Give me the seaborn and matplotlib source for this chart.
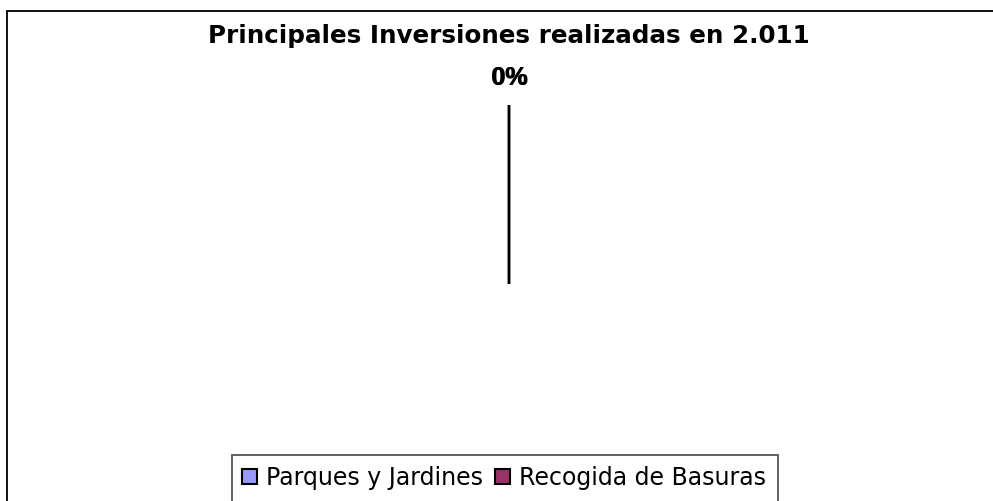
import matplotlib
matplotlib.use("Agg")
import matplotlib.pyplot as plt
from matplotlib.patches import Patch, Rectangle
import seaborn as sns

categories = ["Parques y Jardines", "Recogida de Basuras"]
values = [0.0, 0.0]
colors = ["#9999FF", "#993366"]
title = "Principales Inversiones realizadas en 2.011"

sns.set_theme(style="white")
plt.rcParams["font.family"] = ["Liberation Sans", "DejaVu Sans"]
plt.rcParams["text.color"] = "black"

W, H = 993, 501
fig = plt.figure(figsize=(W / 100, H / 100), dpi=100)
fig.patch.set_facecolor("white")

# outer chart frame (cut at right and bottom as in the reference)
fig.add_artist(Rectangle((7 / W, -0.1), 1.2, (H - 11) / H + 0.1,
                         transform=fig.transFigure, fill=False,
                         edgecolor="#111111", linewidth=1.4, clip_on=False))

R = 179
cx, cy = 509, H - 284
ax = fig.add_axes([(cx - R) / W, (cy - R) / H, 2 * R / W, 2 * R / H])
palette = sns.color_palette(colors)
wedges, texts, autotexts = ax.pie(
    values, colors=palette, normalize=False, startangle=90,
    autopct="%1.0f%%", pctdistance=1.15,
    wedgeprops=dict(edgecolor="black", linewidth=1.8),
    textprops=dict(fontsize=18, fontweight="bold", color="black"))
for i, t in enumerate(autotexts):
    t.set_x(t.get_position()[0] + 0.006 * i)
ax.set_xlim(-1, 1)
ax.set_ylim(-1, 1)
ax.set_aspect("auto")
ax.axis("off")

fig.text(509 / W, 1 - 36 / H, title, ha="center", va="center",
         fontsize=17.7, fontweight="bold", color="black",
         family=["DejaVu Sans"])

# legend frame (extends below the picture)
fig.add_artist(Rectangle((232 / W, -0.1), (778 - 232) / W, (H - 455) / H + 0.1,
                         transform=fig.transFigure, fill=False,
                         edgecolor="#555555", linewidth=1.3, clip_on=False))
handles = [Patch(facecolor=c, edgecolor="black", linewidth=1.5) for c in palette]
leg = fig.legend(handles, categories, loc="center", bbox_to_anchor=(504 / W, 1 - 478 / H),
                 ncol=2, frameon=False, prop=dict(family="DejaVu Sans", size=17),
                 handlelength=0.6, handleheight=0.6,
                 handletextpad=0.38, columnspacing=0.55, borderpad=0, borderaxespad=0)
for t in leg.get_texts():
    t.set_color("black")

fig.savefig("out.png", dpi=100, facecolor="white")
